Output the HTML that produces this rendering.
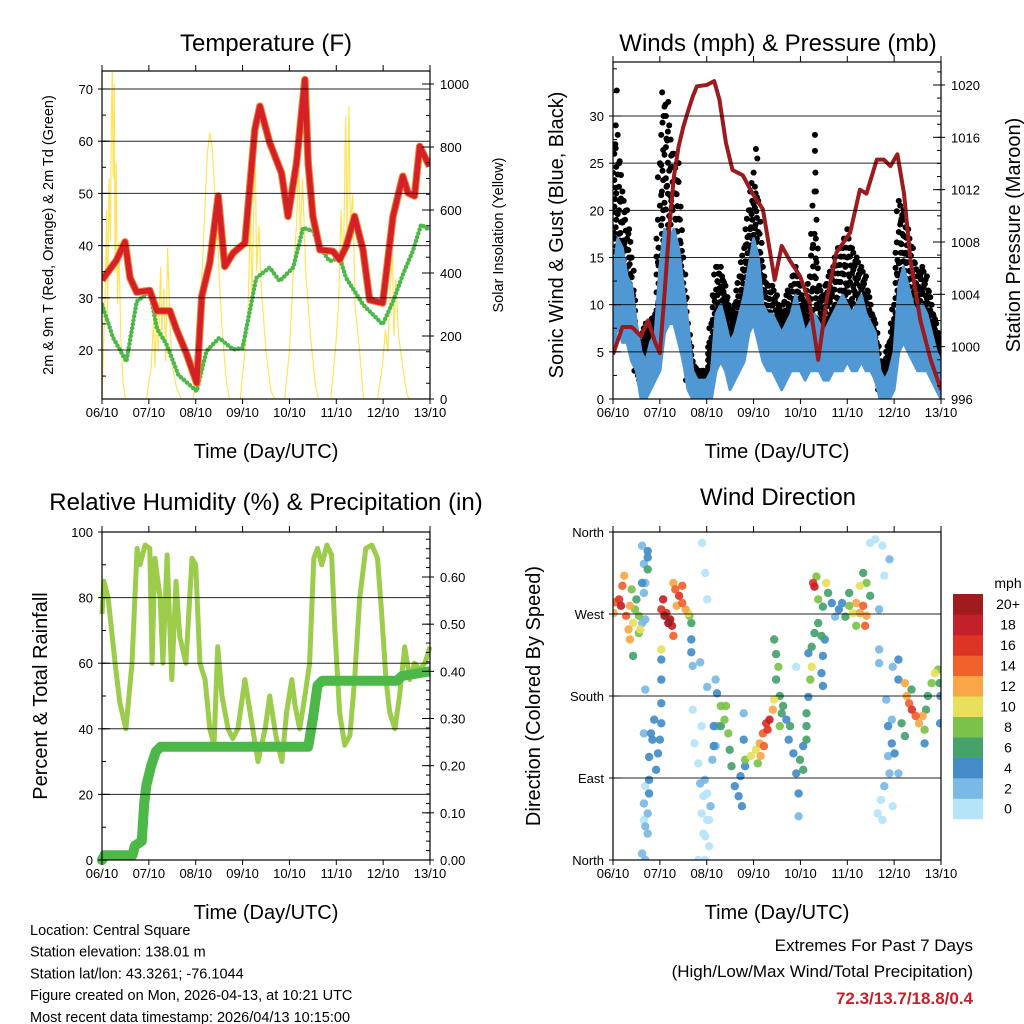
<!DOCTYPE html>
<html><head><meta charset="utf-8"><style>
html,body{margin:0;padding:0;background:#fff;}
svg{display:block;font-family:"Liberation Sans",Arial,sans-serif;}
</style></head><body>
<svg id="c" width="1024" height="1024" viewBox="0 0 1024 1024" xmlns="http://www.w3.org/2000/svg"></svg>
<script>
// ---------- DATA ----------
const dayLabels = ["06/10","07/10","08/10","09/10","10/10","11/10","12/10","13/10"];
const tempTicks = [20,30,40,50,60,70];
const solarTicks = [0,200,400,600,800,1000];
const windTicks = [0,5,10,15,20,25,30];
const presTicks = [996,1000,1004,1008,1012,1016,1020];
const rhTicks = [0,20,40,60,80,100];
const rainTicks = [0,0.1,0.2,0.3,0.4,0.5,0.6];
const rainTickLabels = ["0.00","0.10","0.20","0.30","0.40","0.50","0.60"];
const dirTicks = [0,90,180,270,360];
const dirTickLabels = ["North","East","South","West","North"];
const speedBins = ["0","2","4","6","8","10","12","14","16","18","20+"];
const speedColors = ["#b5e4f8","#79b9e5","#438cc8","#45a26b","#7bc24a","#e6e05a","#f9a746","#f1612c","#de3327","#c4202a","#a01b1e"];

const tempT = [[0,33.4],[0.31,37.2],[0.49,40.7],[0.6,33.8],[0.74,31.1],[1.02,31.4],[1.17,27.5],[1.45,27.5],[1.59,23.9],[1.8,19.4],[2.02,13.7],[2.13,30.3],[2.3,36.7],[2.48,49.5],[2.62,36],[2.8,38.6],[3.05,40.5],[3.26,62.2],[3.37,66.7],[3.58,59.7],[3.83,53.9],[3.97,45.6],[4.15,55.8],[4.33,71.8],[4.4,55.8],[4.5,45.6],[4.65,39.2],[4.93,38.9],[5.07,37.3],[5.21,39.8],[5.39,45.6],[5.57,39.2],[5.71,29.6],[5.99,29],[6.21,45.6],[6.42,53.3],[6.53,50.1],[6.67,49.5],[6.78,59],[6.99,55.2]];
const dewT = [[0,28.7],[0.24,22.3],[0.52,17.8],[0.74,29.3],[1.02,31.2],[1.17,24.2],[1.38,21],[1.63,15.2],[2.02,12.1],[2.23,19.8],[2.5,22.3],[2.8,20.1],[3.0,20.4],[3.29,33.8],[3.58,35.8],[3.79,33.2],[4.08,35.8],[4.29,43.4],[4.5,42.8],[4.65,39.6],[4.86,37],[5.07,37.7],[5.21,33.8],[5.57,28.7],[5.78,26.8],[5.99,24.9],[6.21,29.3],[6.42,34.4],[6.63,38.9],[6.81,44],[6.99,43]];
const solar = [[0,0],[0.03,150],[0.07,350],[0.1,600],[0.12,250],[0.15,700],[0.18,500],[0.2,900],[0.22,1040],[0.24,700],[0.26,1000],[0.28,400],[0.3,750],[0.33,300],[0.36,500],[0.4,200],[0.45,50],[0.5,0],
[0.95,0],[1.05,100],[1.1,250],[1.13,100],[1.17,300],[1.2,150],[1.25,420],[1.28,200],[1.32,350],[1.36,120],[1.4,480],[1.45,250],[1.5,100],[1.6,30],[1.7,0],
[1.95,0],[2.05,150],[2.15,450],[2.25,780],[2.3,845],[2.35,800],[2.45,550],[2.55,250],[2.65,60],[2.72,0],
[2.95,0],[3.05,150],[3.12,300],[3.17,600],[3.2,300],[3.25,700],[3.27,820],[3.3,400],[3.35,550],[3.4,350],[3.5,150],[3.6,30],[3.68,0],
[3.9,0],[4.0,150],[4.08,400],[4.15,550],[4.2,760],[4.23,500],[4.28,700],[4.35,400],[4.45,200],[4.55,50],[4.62,0],
[4.88,0],[4.98,150],[5.05,300],[5.1,600],[5.15,400],[5.2,900],[5.23,500],[5.27,930],[5.3,550],[5.35,650],[5.4,300],[5.5,150],[5.58,0],
[5.88,0],[5.98,100],[6.05,220],[6.1,150],[6.15,350],[6.2,460],[6.23,200],[6.27,380],[6.33,200],[6.4,120],[6.5,20],[6.55,0],[7,0]];

const windLow  = [5,8,6,6,4,3,0,0,1,2,3,7,8,8,6,4,1,0,0,0,0,0,3,4,3,1,2,3,4,7,8,6,4,3,3,2,1,2,3,3,3,2,3,3,3,2,2,3,3,3,4,3,3,4,3,3,2,0,0,0,1,5,6,5,4,3,3,3,2,1,0];
const windHigh = [13,17,16,13,12,8,5,4,6,7,14,18,17,18,16,12,8,3,2,2,2,3,9,10,8,6,7,9,11,14,17,15,10,9,9,8,7,8,9,11,9,7,8,9,8,7,8,9,10,11,10,9,10,11,9,8,7,3,2,3,5,12,14,12,10,9,10,9,7,5,4];
const gustLow  = [10,14,11,10,8,3,2,3,4,5,10,14,13,12,10,6,2,1,1,1,1,3,6,7,6,4,5,6,8,11,13,10,6,5,5,4,3,4,5,5,5,4,5,7,6,5,5,6,7,7,8,7,6,6,5,4,3,1,1,2,5,10,11,9,8,6,5,5,4,3,2];
const gustHigh = [24,28,22,20,15,7,6,8,8,9,25,31,29,26,23,15,8,4,3,3,3,8,14,14,12,9,10,13,16,20,24,21,14,12,12,11,9,11,12,14,12,10,13,22,12,11,13,14,16,16,18,16,15,14,13,10,8,4,4,6,10,21,20,18,16,13,14,13,10,8,6];
const gustSpikes = [[0.08,32.7],[0.06,29],[1.05,32.5],[1.12,31.2],[1.18,31.5],[1.08,30],[3.05,26.5],[3.08,25.5],[4.31,28],[4.31,26.3],[4.32,24],[4.33,22],[0.05,27],[1.4,25]];
const pressure = [[0,999.4],[0.2,1001.5],[0.4,1001.5],[0.6,1000.8],[0.75,1002],[0.9,1000.3],[1.0,999.5],[1.1,1004],[1.2,1009],[1.3,1013],[1.4,1015.3],[1.5,1016.8],[1.6,1018],[1.7,1019.1],[1.79,1019.9],[2.0,1020],[2.16,1020.3],[2.27,1018.9],[2.41,1015.6],[2.55,1013.5],[2.77,1013.1],[2.98,1011.7],[3.2,1010.5],[3.45,1005.1],[3.6,1007.7],[3.77,1006.6],[3.99,1005.4],[4.2,1003.3],[4.38,999],[4.56,1003.6],[4.77,1007.2],[5.06,1008.7],[5.27,1012],[5.41,1011.7],[5.63,1014.3],[5.78,1014.3],[5.92,1013.8],[6.07,1014.7],[6.21,1011.7],[6.35,1006.6],[6.56,1002],[6.78,999],[7.0,996.7]];

const rh = [[0,75],[0.04,85],[0.13,80],[0.28,60],[0.38,48],[0.51,40],[0.64,60],[0.75,95],[0.81,90],[0.92,96],[1.02,95],[1.07,60],[1.13,92],[1.24,80],[1.3,60],[1.39,93],[1.49,55],[1.58,85],[1.66,68],[1.79,60],[1.92,92],[2.0,90],[2.09,60],[2.2,55],[2.3,40],[2.39,35],[2.47,65],[2.56,50],[2.69,40],[2.79,37],[2.9,40],[3.05,55],[3.16,45],[3.33,30],[3.48,40],[3.58,50],[3.71,38],[3.84,30],[3.94,45],[4.05,55],[4.12,47],[4.22,40],[4.33,50],[4.43,60],[4.52,92],[4.6,95],[4.69,90],[4.8,96],[4.9,93],[4.97,70],[5.07,45],[5.18,35],[5.29,38],[5.39,55],[5.5,80],[5.63,95],[5.76,96],[5.88,92],[5.97,75],[6.06,55],[6.14,45],[6.25,40],[6.35,50],[6.46,65],[6.57,55],[6.67,60],[6.78,58],[6.89,60],[7.0,65]];
const rain = [[0,0],[0.05,0.01],[0.65,0.01],[0.7,0.03],[0.85,0.04],[0.9,0.12],[0.95,0.16],[1.05,0.2],[1.15,0.23],[1.25,0.24],[4.4,0.24],[4.5,0.3],[4.6,0.37],[4.7,0.38],[6.3,0.38],[6.4,0.39],[7,0.4]];

// wind direction points: [time(days), direction(deg), speed(mph)]
const dirPts = [
[0.01,271,12],[0.05,283,14],[0.13,286,16],[0.2,301,14],[0.24,312,12],[0.17,279,18],[0.28,268,14],[0.36,279,12],[0.4,297,8],[0.43,260,10],[0.47,275,8],[0.5,286,6],[0.55,268,8],[0.58,253,10],[0.33,253,12],[0.36,242,12],[0.43,224,6],[0.55,249,8],[0.62,304,4],[0.62,260,2],
[0.62,345,2],[0.74,339,4],[0.74,332,4],[0.66,325,2],[0.69,304,2],[0.74,319,6],[0.69,264,2],[0.66,293,2],
[1.07,286,18],[1.03,275,16],[1.1,268,20],[1.18,260,20],[1.26,257,18],[1.29,246,14],[1.14,271,16],[1.22,264,20],[1.03,231,10],
[1.03,220,4],[1.03,198,4],[1.03,172,4],[1.03,150,4],[1.0,132,4],[0.88,154,4],[0.84,132,4],[0.96,117,4],[0.92,99,4],[0.81,139,4],[0.77,88,4],[0.77,73,4],[0.69,81,0],[0.66,62,2],[0.74,51,2],[0.69,37,2],[0.74,29,2],[0.62,7,2],[0.69,0,2],[0.66,44,0],[0.69,187,2],[0.66,139,2],[0.77,113,4],
[1.29,304,12],[1.33,297,14],[1.41,290,16],[1.48,282,14],[1.55,275,12],[1.63,268,8],[1.48,301,14],[1.6,271,10],[1.67,260,6],[1.36,279,12],
[1.67,242,4],[1.7,213,2],[1.67,228,4],[1.86,217,2],[1.97,315,0],[1.9,348,0],[2.01,286,0],[1.7,165,0],[1.74,128,0],[1.82,106,0],[1.86,84,2],[1.93,70,0],[1.89,51,0],[2.01,44,0],[1.97,26,0],[2.05,15,0],[1.93,29,0],[1.96,0,0],[1.82,0,0],[2.08,59,2],[2.05,44,0],[2.01,73,0],[1.96,88,2],[2.12,110,2],[2.22,147,2],[2.19,125,2],[1.89,147,0],[2.01,190,2],
[2.19,198,2],[2.22,183,4],[2.3,169,8],[2.38,154,8],[2.46,139,8],[2.41,169,8],[2.3,147,6],[2.49,121,6],[2.53,103,6],[2.6,81,4],[2.68,70,4],[2.75,59,4],[2.72,92,4],[2.82,103,4],[2.79,132,4],[2.79,161,2],[2.15,147,4],[2.15,125,4],
[2.82,110,8],[2.94,114,10],[3.05,121,10],[3.13,128,12],[3.2,139,14],[3.27,150,16],[3.34,154,18],[3.3,143,16],[3.41,165,12],[3.44,176,10],[3.22,125,14],[3.15,114,12],[3.09,106,8],
[3.44,242,6],[3.48,226,6],[3.53,212,8],[3.48,198,6],[3.56,180,6],[3.6,161,6],[3.7,154,4],[3.78,147,6],[3.56,147,8],[3.63,169,6],[3.75,132,4],[3.85,117,4],[3.91,95,4],[3.96,73,4],[3.96,48,2],[3.99,110,6],[4.06,99,6],[3.91,212,0],
[4.13,161,6],[4.17,179,4],[4.21,198,8],[4.24,212,10],[4.17,227,4],[4.24,234,6],[4.3,249,6],[4.38,260,6],[4.45,246,6],[4.48,224,4],[4.45,205,4],[4.48,191,4],[4.52,242,4],[4.48,278,6],[4.38,286,8],[4.3,300,18],[4.27,304,16],[4.34,311,8],[4.13,147,6],[4.13,132,6],[4.06,125,4],
[4.55,304,10],[4.59,293,6],[4.67,282,4],[4.74,267,2],[4.82,275,4],[4.89,282,4],[4.96,267,6],[5.04,279,8],[5.12,271,10],[5.19,282,12],[5.27,271,12],[5.34,279,14],[5.41,268,12],[5.49,290,6],[5.41,304,8],[5.34,315,6],[5.27,301,10],[5.19,257,8],[5.38,257,14],[5.04,293,6],
[5.49,348,0],[5.6,352,0],[5.75,345,0],[5.9,330,2],[5.79,312,0],[5.68,275,2],[5.68,231,2],[5.68,216,2],
[5.87,147,4],[5.95,128,4],[5.87,114,2],[5.9,95,2],[5.79,81,2],[5.72,66,0],[5.65,51,0],[5.75,44,0],[5.97,59,0],[6.09,95,2],[6.01,117,4],[5.95,154,2],[5.83,176,2],[6.09,220,4],[5.97,212,2],[6.09,198,4],[6.16,150,6],[6.23,136,6],
[6.23,194,12],[6.27,180,12],[6.32,172,14],[6.38,165,16],[6.46,158,14],[6.53,150,12],[6.61,158,12],[6.65,143,8],[6.68,165,6],[6.72,180,6],[6.8,194,8],[6.87,205,10],[6.94,209,8],[6.97,194,6],[6.99,180,4],[6.98,150,4],[6.37,187,6],[6.65,128,4]
];

// ---------- RENDER ----------
const NS = "http://www.w3.org/2000/svg";
const svg = document.getElementById('c');
function mk(tag, attrs, parent, text){
  const e = document.createElementNS(NS, tag);
  for (const k in attrs) e.setAttribute(k, attrs[k]);
  if (text !== undefined) e.textContent = text;
  (parent || svg).appendChild(e);
  return e;
}
function lin(d0,d1,r0,r1){ return v => r0 + (v-d0)/(d1-d0)*(r1-r0); }
function pathOf(pts, sx, sy){ return pts.map((p,i)=>(i?'L':'M')+sx(p[0]).toFixed(1)+','+sy(p[1]).toFixed(1)).join(''); }

function panel(name){
  const g = mk('g', {});
  
  
  return g;
}
function frame(g, x0, x1, y0, y1){
  const r = mk('rect', {x:x0, y:y0, width:x1-x0, height:y1-y0, fill:'none', stroke:'#000', 'stroke-width':1.2}, g);
  
  
}
function xAxis(g, sx, y0, y1){
  const ax = mk('g', {}, g);
  
  
  dayLabels.forEach((lab,i)=>{
    const x = sx(i);
    mk('line', {x1:x, x2:x, y1:y1, y2:y1+5, stroke:'#000','stroke-width':1}, ax);
    mk('line', {x1:x, x2:x, y1:y0, y2:y0-6, stroke:'#000','stroke-width':1}, ax);
    const t = mk('text', {x:x, y:y1+18, 'font-size':13, 'text-anchor':'middle'}, ax, lab);
    
    
  });
  const tt = mk('text', {x:(sx(0)+sx(7))/2, y:y1+59, 'font-size':20, 'text-anchor':'middle'}, ax, 'Time (Day/UTC)');
  
  
}
function yAxis(g, ticks, labels, sy, x, side, minorStep, lo, hi, grid, gx0, gx1){
  const ax = mk('g', {}, g);
  
  
  const dir = side==='l' ? 1 : -1;
  if (minorStep){
    for (let v = Math.ceil(lo/minorStep)*minorStep; v <= hi+1e-9; v += minorStep){
      const y = sy(v);
      mk('line', {x1:x, x2:x+dir*4, y1:y, y2:y, stroke:'#000','stroke-width':1}, ax);
    }
  }
  ticks.forEach((v,i)=>{
    const y = sy(v);
    if (grid) mk('line', {x1:gx0, x2:gx1, y1:y, y2:y, stroke:'#000','stroke-width':1, 'stroke-opacity':0.85}, ax);
    mk('line', {x1:x, x2:x+dir*8, y1:y, y2:y, stroke:'#000','stroke-width':1}, ax);
    mk('line', {x1:x, x2:x-dir*4, y1:y, y2:y, stroke:'#000','stroke-width':1}, ax);
    const t = mk('text', {x: side==='l' ? x-9 : x+10, y:y+5, 'font-size':13, 'text-anchor': side==='l'?'end':'start'}, ax, labels[i]);
    
    
  });
}
function title(g, x, y, txt, size){
  const t = mk('text', {x:x, y:y, 'font-size':size, 'text-anchor':'middle'}, g, txt);
  
  
}
function vlabel(g, x, y, txt, size, name){
  const t = mk('text', {x:x, y:y, 'font-size':size, 'text-anchor':'middle', transform:`rotate(-90 ${x} ${y})`}, g, txt);
  
  
}

// ---- Panel 1: Temperature ----
(function(){
  const X0=102, X1=430, Y0=71, Y1=399;
  const g = panel('temperature-panel');
  const sx = lin(0,7,X0,X1);
  const sy = lin(20,70,350,89);
  const ss = lin(0,1000,399,84);
  const clip = mk('clipPath',{id:'cp1'},g); mk('rect',{x:X0,y:Y0,width:X1-X0,height:Y1-Y0},clip);
  const s = mk('path',{d:pathOf(solar,sx,ss),fill:'none',stroke:'#fde45a','stroke-width':1.2,'clip-path':'url(#cp1)'},g);
   
  const d = mk('path',{d:pathOf(dewT,sx,sy),fill:'none',stroke:'#4cb848','stroke-width':4.5,'stroke-dasharray':'0 4','stroke-linecap':'round','clip-path':'url(#cp1)'},g);
   
  const o = mk('path',{d:pathOf(tempT,sx,sy),fill:'none',stroke:'#f0812c','stroke-width':7.5,'stroke-linejoin':'round','clip-path':'url(#cp1)'},g);
   
  const r = mk('path',{d:pathOf(tempT,sx,sy),fill:'none',stroke:'#d42027','stroke-width':5.5,'stroke-linejoin':'round','clip-path':'url(#cp1)'},g);
   
  yAxis(g, tempTicks, tempTicks.map(String), sy, X0, 'l', 5, 15, 73, true, X0, X1);
  yAxis(g, solarTicks, solarTicks.map(String), ss, X1, 'r', 50, 0, 1040, false);
  frame(g,X0,X1,Y0,Y1);
  xAxis(g, sx, Y0, Y1);
  title(g, 266, 51, 'Temperature (F)', 24);
  vlabel(g, 53, 235, '2m & 9m T (Red, Orange) & 2m Td (Green)', 14.5, 'left-y-axis-title');
  vlabel(g, 503, 235, 'Solar Insolation (Yellow)', 14.5, 'right-y-axis-title');
})();

// ---- Panel 2: Winds & Pressure ----
(function(){
  const X0=613, X1=941, Y0=62, Y1=399;
  const g = panel('winds-pressure-panel');
  const sx = lin(0,7,X0,X1);
  const sy = lin(0,30,399,116);
  const sp = lin(996,1020,399,85);
  const clip = mk('clipPath',{id:'cp2'},g); mk('rect',{x:X0,y:Y0,width:X1-X0,height:Y1-Y0},clip);
  const gd = mk('g',{'clip-path':'url(#cp2)'},g);
   
  const N = 10;
  gustLow.forEach((lo,i)=>{
    const t = i*0.1, hi = gustHigh[i];
    const nlo = i<70 ? gustLow[i+1] : lo, nhi = i<70 ? gustHigh[i+1] : hi;
    for (let k=0;k<=N;k++){
      const f = k/N;
      const v = lo + (hi-lo)*f;
      mk('circle',{cx:(sx(t)+((k%3)-1)*2).toFixed(1), cy:sy(v).toFixed(1), r:3, fill:'#000'}, gd);
      const v2 = (lo+nlo)/2 + ((hi+nhi)/2 - (lo+nlo)/2)*f;
      mk('circle',{cx:(sx(t+0.05)+((k%2)-0.5)*2).toFixed(1), cy:sy(v2).toFixed(1), r:3, fill:'#000'}, gd);
    }
  });
  gustSpikes.forEach(p=>{ mk('circle',{cx:sx(p[0]),cy:sy(p[1]),r:3,fill:'#000'},gd); });
  const up = windHigh.map((v,i)=>[i*0.1,v]);
  const dn = windLow.map((v,i)=>[i*0.1,v]).reverse();
  const band = mk('path',{d:pathOf(up.concat(dn),sx,sy)+'Z',fill:'#4f98d3',stroke:'#4f98d3','stroke-width':3,'stroke-linejoin':'round','clip-path':'url(#cp2)'},g);
   
  const p = mk('path',{d:pathOf(pressure,sx,sp),fill:'none',stroke:'#9b1b1f','stroke-width':4,'stroke-linejoin':'round','clip-path':'url(#cp2)'},g);
   
  yAxis(g, windTicks, windTicks.map(String), sy, X0, 'l', 2.5, 0, 35, true, X0, X1);
  yAxis(g, presTicks, presTicks.map(String), sp, X1, 'r', 1, 996, 1021, false);
  frame(g,X0,X1,Y0,Y1);
  xAxis(g, sx, Y0, Y1);
  title(g, 778, 51, 'Winds (mph) & Pressure (mb)', 24);
  vlabel(g, 563, 235, 'Sonic Wind & Gust (Blue, Black)', 20, 'left-y-axis-title');
  vlabel(g, 1020, 235, 'Station Pressure (Maroon)', 20, 'right-y-axis-title');
})();

// ---- Panel 3: RH & Precip ----
(function(){
  const X0=102, X1=430, Y0=532, Y1=860;
  const g = panel('humidity-precip-panel');
  const sx = lin(0,7,X0,X1);
  const sy = lin(0,100,860,532);
  const sr = lin(0,0.6,860,577);
  const clip = mk('clipPath',{id:'cp3'},g); mk('rect',{x:X0-6,y:Y0,width:X1-X0+6,height:Y1-Y0+6},clip);
  const h = mk('path',{d:pathOf(rh,sx,sy),fill:'none',stroke:'#9ccc4c','stroke-width':5,'stroke-linejoin':'round'},g);
   
  const r = mk('path',{d:pathOf(rain,sx,sr),fill:'none',stroke:'#4cb848','stroke-width':10,'stroke-linejoin':'round','stroke-linecap':'round','clip-path':'url(#cp3)'},g);
   
  yAxis(g, rhTicks, rhTicks.map(String), sy, X0, 'l', 10, 0, 100, true, X0, X1);
  yAxis(g, rainTicks, rainTickLabels, sr, X1, 'r', 0.02, 0, 0.69, false);
  frame(g,X0,X1,Y0,Y1);
  xAxis(g, sx, Y0, Y1);
  title(g, 266, 510, 'Relative Humidity (%) & Precipitation (in)', 24);
  vlabel(g, 47, 696, 'Percent & Total Rainfall', 20, 'left-y-axis-title');
})();

// ---- Panel 4: Wind direction ----
(function(){
  const X0=613, X1=941, Y0=532, Y1=860;
  const g = panel('wind-direction-panel');
  const sx = lin(0,7,X0,X1);
  const sy = lin(0,360,860,532);
  const clip = mk('clipPath',{id:'cp4'},g); mk('rect',{x:X0,y:Y0,width:X1-X0,height:Y1-Y0},clip);
  const pg = mk('g',{'clip-path':'url(#cp4)','fill-opacity':0.92},g);
   
  dirPts.slice().sort((a,b)=>a[2]-b[2]).forEach(p=>{
    const idx = Math.min(10, Math.floor(p[2]/2));
    const c = mk('circle',{cx:sx(p[0]).toFixed(1),cy:sy(p[1]).toFixed(1),r:4.2,fill:speedColors[idx]},pg);
    
    
  });
  yAxis(g, dirTicks, dirTickLabels, sy, X0, 'l', 0, 0, 0, true, X0, X1);
  frame(g,X0,X1,Y0,Y1);
  xAxis(g, sx, Y0, Y1);
  title(g, 778, 505, 'Wind Direction', 24);
  vlabel(g, 540, 696, 'Direction (Colored By Speed)', 20, 'left-y-axis-title');
  const cb = mk('g',{},g);
   
  const bh = 20.45, top = 594;
  speedBins.forEach((lab,i)=>{
    const k = speedBins.length-1-i;
    const y = top + k*bh;
    mk('rect',{x:953,y:y,width:30,height:bh+0.3,fill:speedColors[i]},cb);
    const t = mk('text',{x:1008,y:y+bh/2+5,'font-size':14,'text-anchor':'middle'},cb,lab);
     
  });
  const u = mk('text',{x:1008,y:588,'font-size':14,'text-anchor':'middle'},cb,'mph');
   
})();

// ---- footer text ----
(function(){
  const g = mk('g',{});
   
  const lines = ["Location: Central Square","Station elevation: 138.01 m","Station lat/lon: 43.3261; -76.1044","Figure created on Mon, 2026-04-13, at 10:21 UTC","Most recent data timestamp: 2026/04/13 10:15:00"];
  lines.forEach((l,i)=>{ mk('text',{x:30,y:935+i*21.7,'font-size':14.5},g,l); });
  const e = mk('g',{});
   
  mk('text',{x:973,y:951,'font-size':17,'text-anchor':'end'},e,'Extremes For Past 7 Days');
  mk('text',{x:973,y:977,'font-size':17,'text-anchor':'end'},e,'(High/Low/Max Wind/Total Precipitation)');
  mk('text',{x:973,y:1004,'font-size':17,'text-anchor':'end','font-weight':'bold',fill:'#c8202a'},e,'72.3/13.7/18.8/0.4');
})();
</script>
</body></html>
